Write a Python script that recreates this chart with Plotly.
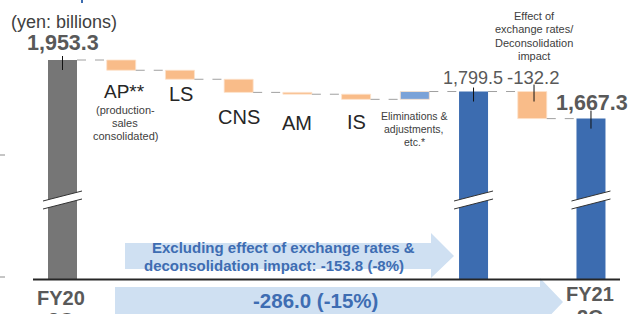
import plotly.graph_objects as go

W, H = 637, 314

# ---------------- data ----------------
categories = ["FY20 2Q", "AP**", "LS", "CNS", "AM", "IS",
              "Eliminations & adjustments, etc.*", "Subtotal",
              "Effect of exchange rates/Deconsolidation impact", "FY21 2Q"]
start_total = 1953.3
segment_names = ["AP**", "LS", "CNS", "AM", "IS", "Eliminations"]
segment_changes = [-50.0, -44.0, -64.0, -9.0, -25.0, 38.2]
mid_total = 1799.5
fx_change = -132.2
end_total = 1667.3
total_labels = ["1,953.3", "1,799.5", "1,667.3"]
fx_label = "-132.2"
axis_labels = ["FY20", "FY21"]
arrow1_lines = ["Excluding effect of exchange rates &", "deconsolidation impact: -153.8 (-8%)"]
arrow2_text = "-286.0 (-15%)"

# ---------------- styles ----------------
FONT = "Liberation Sans, Arial, sans-serif"
GRAY_BAR = "#767676"
BLUE = "#3c6cb0"
ORANGE = "#f9bc89"
ELIM = "#7ba2d8"
LIGHT_BLUE = "#cfe0f2"
TXT_GRAY = "#595959"
TXT_DARK = "#262626"
TXT_BLUE = "#3e6db2"

# pixel geometry
X0_PX, DX_PX = 62.5, 58.72     # centre of first bar, spacing
TOP_PX, BASE_PX = 60, 279
VPP = 4.88                     # value per pixel
BW = 29 / DX_PX

yr = [start_total - (H - TOP_PX) * VPP, start_total + TOP_PX * VPP]
floor = start_total - (BASE_PX - TOP_PX) * VPP
xr = [-X0_PX / DX_PX, (W - X0_PX) / DX_PX]


def py(p):
    return 1 - p / H


def px(p):
    return p / W


fig = go.Figure()

# totals
tot_x = [0, 7, 9]
tot_v = [start_total, mid_total, end_total]
fig.add_trace(go.Bar(x=tot_x, y=[v - floor for v in tot_v], base=[floor] * 3,
                     width=BW, marker=dict(color=[GRAY_BAR, BLUE, BLUE], line=dict(width=0)),
                     hoverinfo="skip"))

# changes
chg_x, chg_base, chg_y, chg_col = [], [], [], []
levels = [start_total]
lvl = start_total
for i, c in enumerate(segment_changes):
    chg_x.append(i + 1)
    chg_base.append(lvl)
    chg_y.append(c)
    chg_col.append(ORANGE if c < 0 else ELIM)
    lvl += c
    levels.append(lvl)
levels.append(mid_total)
chg_x.append(8)
chg_base.append(mid_total)
chg_y.append(fx_change)
chg_col.append(ORANGE)
levels.append(mid_total + fx_change)
fig.add_trace(go.Bar(x=chg_x, y=chg_y, base=chg_base, width=BW,
                     marker=dict(color=chg_col, line=dict(width=0.8, color="#fde2cc")),
                     hoverinfo="skip"))

shapes = []
# connectors
for i in range(len(levels)):
    shapes.append(dict(type="line", xref="x", yref="y",
                       x0=i + BW / 2, x1=i + 1 - BW / 2, y0=levels[i], y1=levels[i],
                       line=dict(color="#a0a0a0", width=1, dash="dash")))

# break marks on total bars
half = 19.5 / DX_PX
for xi in tot_x:
    path = (f"M {xi - half},{py(201)} L {xi + half},{py(191)} "
            f"L {xi + half},{py(199)} L {xi - half},{py(209)} Z")
    shapes.append(dict(type="path", xref="x", yref="paper", path=path,
                       fillcolor="white", line=dict(width=0)))
    shapes.append(dict(type="line", xref="x", yref="paper", x0=xi - half, x1=xi + half,
                       y0=py(201), y1=py(191), line=dict(color="#333333", width=1)))
    shapes.append(dict(type="line", xref="x", yref="paper", x0=xi - half, x1=xi + half,
                       y0=py(209), y1=py(199), line=dict(color="#333333", width=1)))

# leader lines
for xi, v, off in [(0, start_total, 0), (7, mid_total, 0), (8, mid_total, 3), (9, end_total, 4)]:
    xx = xi + 0.03 if xi == 8 else xi
    shapes.append(dict(type="line", xref="x", yref="y", x0=xx, x1=xx,
                       y0=v + (4 + off) * VPP, y1=v - 10 * VPP,
                       line=dict(color="#111111", width=1)))

# baseline
shapes.append(dict(type="line", xref="paper", yref="paper", x0=px(33), x1=px(620),
                   y0=py(279.5), y1=py(279.5), line=dict(color="#262626", width=2.2)))

# left edge ticks
for t in [155, 277]:
    shapes.append(dict(type="line", xref="paper", yref="paper", x0=0, x1=px(5),
                       y0=py(t), y1=py(t), line=dict(color="#8c8c8c", width=1)))

# title fragment at top
shapes.append(dict(type="line", xref="paper", yref="paper", x0=px(82), x1=px(82),
                   y0=py(0), y1=py(3), line=dict(color=BLUE, width=2)))


def arrow(x0, x1, xt, yt, yb, ht, hb, ymid):
    return (f"M {px(x0)},{py(yt)} L {px(x1)},{py(yt)} L {px(x1)},{py(ht)} L {px(xt)},{py(ymid)} "
            f"L {px(x1)},{py(hb)} L {px(x1)},{py(yb)} L {px(x0)},{py(yb)} Z")


shapes.append(dict(type="path", xref="paper", yref="paper", layer="below",
                   path=arrow(125, 431, 454, 243, 269, 233, 278, 256),
                   fillcolor=LIGHT_BLUE, line=dict(width=0)))
shapes.append(dict(type="path", xref="paper", yref="paper", layer="below",
                   path=arrow(115, 540, 563, 287, 317, 278, 326, 302),
                   fillcolor=LIGHT_BLUE, line=dict(width=0)))

ann = []


def txt(text, x, y, size, color, bold=False, xref="paper", yref="paper", xanchor="center", yanchor="middle"):
    t = f"<b>{text}</b>" if bold else text
    ann.append(dict(text=t, x=x, y=y, xref=xref, yref=yref, showarrow=False,
                    xanchor=xanchor, yanchor=yanchor,
                    font=dict(family=FONT, size=size, color=color)))


txt("(yen: billions)", px(64), py(22), 18, "#404040")
txt(total_labels[0], 0, py(43), 21.5, TXT_GRAY, bold=True, xref="x")
txt(total_labels[1], px(473), py(78), 18, TXT_GRAY)
txt(fx_label, px(533), py(78), 18.5, TXT_GRAY)
txt(total_labels[2], px(592), py(103), 21.5, TXT_GRAY, bold=True)

# category labels
txt("AP**", px(124), py(91), 19, TXT_DARK)
for line, yy in zip(["(production-", "sales", "consolidated)"], [110, 123, 136]):
    txt(line, px(125), py(yy), 11, "#404040")
txt("LS", px(181), py(94), 20, TXT_DARK)
txt("CNS", 3, py(117), 20, TXT_DARK, xref="x")
txt("AM", 4, py(123), 20, TXT_DARK, xref="x")
txt("IS", 5, py(122), 20, TXT_DARK, xref="x")
for line, yy in zip(["Eliminations &", "adjustments,", "etc.*"], [116, 129, 142]):
    txt(line, px(414), py(yy), 10.5, "#404040")
for line, yy in zip(["Effect of", "exchange rates/", "Deconsolidation", "impact"], [16, 29, 43, 56]):
    txt(line, px(534), py(yy), 11, "#404040")

# axis labels
txt(axis_labels[0], px(61), py(297.5), 20, TXT_GRAY, bold=True)
txt("2Q", px(61), py(320), 20, TXT_GRAY, bold=True)
txt(axis_labels[1], px(590), py(294), 20, TXT_GRAY, bold=True)
txt("2Q", px(590), py(317), 20, TXT_GRAY, bold=True)

# arrow texts
txt(arrow1_lines[0], px(283), py(247), 15, TXT_BLUE, bold=True)
txt(arrow1_lines[1], px(274), py(265), 15, TXT_BLUE, bold=True)
txt(arrow2_text, px(315), py(300), 20.5, TXT_BLUE, bold=True)

fig.update_layout(
    width=W, height=H, margin=dict(l=0, r=0, t=0, b=0),
    paper_bgcolor="white", plot_bgcolor="white",
    showlegend=False, barmode="overlay",
    xaxis=dict(range=xr, visible=False, fixedrange=True),
    yaxis=dict(range=yr, visible=False, fixedrange=True),
    shapes=shapes, annotations=ann,
)

fig.write_html("out.html", config={"displayModeBar": False},
               post_script="document.body.style.margin='0';document.body.style.overflow='hidden';")
